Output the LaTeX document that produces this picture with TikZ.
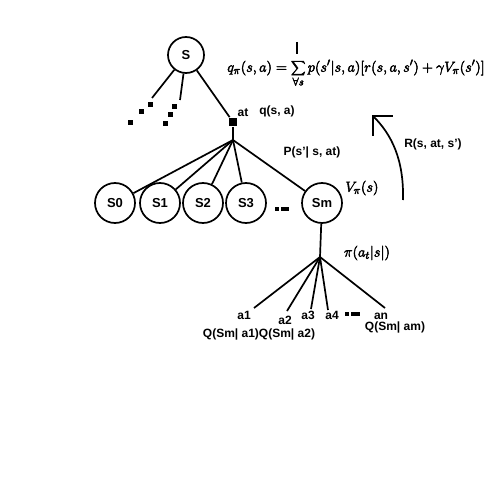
\documentclass[tikz,border=0pt]{standalone}
\usepackage{fontspec}
\setmainfont{Liberation Sans}
\usetikzlibrary{arrows.meta}
\newcommand{\heavytxt}[1]{\special{pdf:literal direct 2 Tr 0.45 w}#1\special{pdf:literal direct 0 Tr}}
\begin{document}
\begin{tikzpicture}[x=1pt,y=-1pt, line width=1.7pt,
  st/.style={circle,draw,minimum size=40pt,inner sep=0pt,font=\bfseries\fontsize{13}{13}\selectfont},
  lbl/.style={font=\bfseries\fontsize{12}{12}\selectfont, inner sep=0pt},
  dot/.style={fill, minimum size=5pt, inner sep=0pt},
  mth/.style={inner sep=0pt, font=\fontsize{15.5}{15.5}\selectfont}]
\useasboundingbox (0,0) rectangle (500,500);
% top state
\node[st, minimum size=36pt] (S) at (186,55) {S};
\node[fill, minimum size=8pt, inner sep=0pt] (sq) at (233,122) {};
\draw (S) -- (sq);
\coordinate (d1) at (152,98);
\coordinate (d2) at (180,100);
\draw (S) -- (d1);
\draw (S) -- (d2);
\node[dot] (p1) at (150,105) {};
\node[dot] (p2) at (141,112) {};
\node[dot] (p3) at (130,122) {};
\node[dot] (p4) at (174,107) {};
\node[dot] (p5) at (170,115) {};
\node[dot] (p6) at (165,123) {};
\node[lbl] (at) at (243,113) {at};
\node[lbl] (qsa) at (277,111) {q(s, a)};
\node[mth] (eq) at (356,73) {\heavytxt{$\displaystyle q_\pi(s,a)=\sum\limits_{\forall s} p(s'|s,a)[r(s,a,s')+\gamma V_\pi(s')]$}};
% successor states
\coordinate (j1) at (233,140);
\draw (sq) -- (j1);
\node[st] (S0) at (115,203) {S0};
\node[st] (S1) at (160,203) {S1};
\node[st] (S2) at (203,203) {S2};
\node[st] (S3) at (246,203) {S3};
\node[st] (Sm) at (322,203) {Sm};
\foreach \n in {S0,S1,S2,S3,Sm} \draw (j1) -- (\n);
\fill (275,207) rectangle (279,211);
\fill (281,207) rectangle (289,211);
\node[lbl] (P) at (312,152) {P(s'| s, at)};
\node[mth] (V) at (362,188) {\heavytxt{$V_\pi(s)$}};
% reward arrow
\coordinate (r0) at (403,200);
\coordinate (r1) at (372,115);
\draw[-{Straight Barb[length=14pt,width=28pt]}] (r0) .. controls (404,160) and (392,135) .. (r1);
\node[lbl] (R) at (433,144) {R(s, at, s')};
% actions
\coordinate (j2) at (320,257);
\draw (Sm) -- (j2);
\node[mth] (pi) at (367,253) {\heavytxt{$\pi(a_t|s|)$}};
\coordinate (e1) at (254,308);
\coordinate (e2) at (287,311);
\coordinate (e3) at (311,309);
\coordinate (e4) at (328,310);
\coordinate (e5) at (385,308);
\foreach \e in {e1,e2,e3,e4,e5} \draw (j2) -- (\e);
\node[lbl] (a1) at (244,315) {a1};
\node[lbl] (a2) at (285,320) {a2};
\node[lbl] (a3) at (308,315) {a3};
\node[lbl] (a4) at (332,315) {a4};
\node[lbl] (an) at (381,316) {an};
\fill (345,312) rectangle (349,316);
\fill (351,312) rectangle (360,316);
\node[lbl] (Q1) at (259,334) {Q(Sm| a1)Q(Sm| a2)};
\node[lbl] (Qm) at (395,327) {Q(Sm| am)};
% bar above the sum sign
\coordinate (b1) at (297,42);
\coordinate (b2) at (297,54);
\draw[line width=1.3pt] (b1) -- (b2);
\end{tikzpicture}
\end{document}
